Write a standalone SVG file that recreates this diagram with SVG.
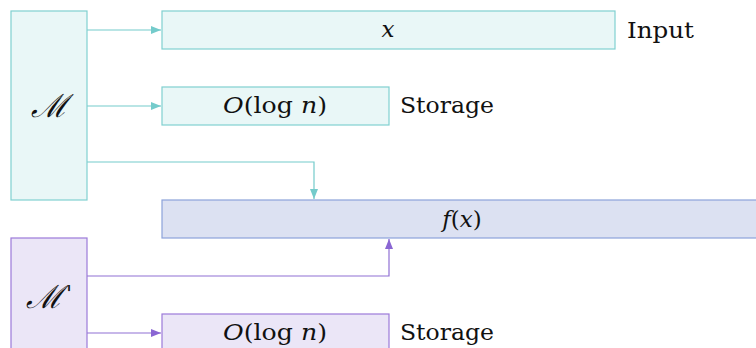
<svg xmlns="http://www.w3.org/2000/svg" width="756" height="348" viewBox="0 0 756 348">
<style>
.teal{fill:#e9f7f7;stroke:#80d0d0;stroke-width:1.2}
.blue{fill:#dce1f2;stroke:#8ca2da;stroke-width:1.2}
.purp{fill:#ebe6f7;stroke:#9c7ad9;stroke-width:1.2}
.ct{fill:none;stroke:#74cbcb;stroke-width:1.2}
.cp{fill:none;stroke:#9070d4;stroke-width:1.2}
</style>
<defs>
<marker id="at" markerWidth="10" markerHeight="8" refX="10" refY="4" orient="auto" markerUnits="userSpaceOnUse"><path d="M0,0 L10,4 L0,8 Z" fill="#74cbcb"/></marker>
<marker id="ap" markerWidth="10" markerHeight="8" refX="10" refY="4" orient="auto" markerUnits="userSpaceOnUse"><path d="M0,0 L10,4 L0,8 Z" fill="#8a66d3"/></marker>
</defs>
<g id="connectors">
<path class="ct" d="M87,30 H161" marker-end="url(#at)"/>
<path class="ct" d="M87,106 H161" marker-end="url(#at)"/>
<path class="ct" d="M87,162 H314 V199" marker-end="url(#at)"/>
<path class="cp" d="M87,276 H389 V239" marker-end="url(#ap)"/>
<path class="cp" d="M87,333 H161" marker-end="url(#ap)"/>
</g>
<g font-family="'DejaVu Serif', serif" font-size="23" fill="#111">
<g id="M">
<rect class="teal" x="11" y="11" width="76" height="189"/>
<text x="49" y="117" text-anchor="middle" font-style="italic" font-size="32">ℳ</text>
</g>
<g id="input">
<rect class="teal" x="162" y="11" width="453" height="38"/>
<text x="388" y="37" text-anchor="middle" font-style="italic">x</text>
<text x="627" y="38" textLength="67" lengthAdjust="spacingAndGlyphs">Input</text>
</g>
<g id="storage1">
<rect class="teal" x="162" y="87" width="227" height="38"/>
<text x="275" y="113" text-anchor="middle" textLength="104" lengthAdjust="spacingAndGlyphs"><tspan font-style="italic">O</tspan>(log <tspan font-style="italic">n</tspan>)</text>
<text x="400" y="113" textLength="94" lengthAdjust="spacingAndGlyphs">Storage</text>
</g>
<g id="fx">
<rect class="blue" x="162" y="200" width="600" height="38"/>
<text x="462" y="227" text-anchor="middle"><tspan font-style="italic">f</tspan>(<tspan font-style="italic">x</tspan>)</text>
</g>
<g id="Mprime">
<rect class="purp" x="11" y="238" width="76" height="120"/>
<text x="44" y="308" text-anchor="middle" font-style="italic" font-size="32">ℳ</text>
<text x="66" y="301" font-style="italic" font-size="22">'</text>
</g>
<g id="storage2">
<rect class="purp" x="162" y="314" width="227" height="40"/>
<text x="275" y="340" text-anchor="middle" textLength="104" lengthAdjust="spacingAndGlyphs"><tspan font-style="italic">O</tspan>(log <tspan font-style="italic">n</tspan>)</text>
<text x="400" y="340" textLength="94" lengthAdjust="spacingAndGlyphs">Storage</text>
</g>
</g>
</svg>
